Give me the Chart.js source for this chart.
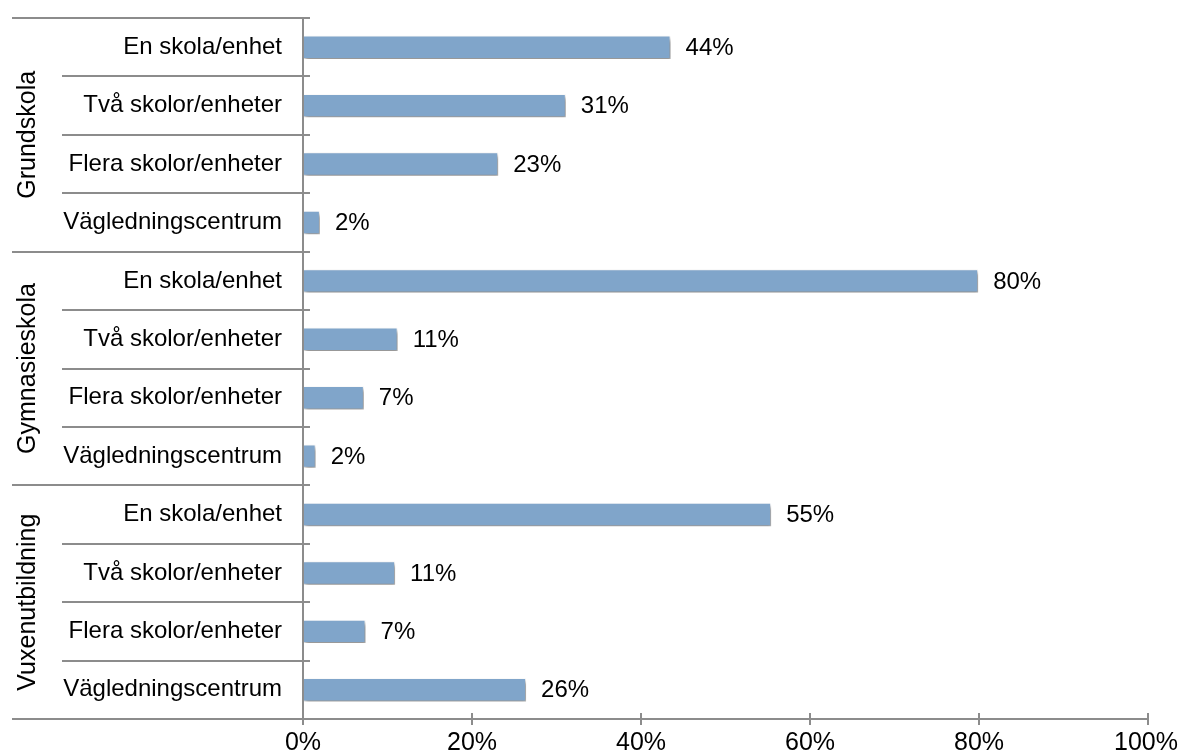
<!DOCTYPE html>
<html>
<head>
<meta charset="utf-8">
<script src="https://cdn.jsdelivr.net/npm/chart.js@4/dist/chart.umd.min.js"></script>
<style>
  html, body { margin: 0; padding: 0; background: #fff; }
  #wrap { width: 1182px; height: 756px; }
</style>
</head>
<body>
<div id="wrap"><canvas id="chart" width="1182" height="756"></canvas></div>
<script>
const categories = [
    'En skola/enhet', 'Två skolor/enheter', 'Flera skolor/enheter', 'Vägledningscentrum',
    'En skola/enhet', 'Två skolor/enheter', 'Flera skolor/enheter', 'Vägledningscentrum',
    'En skola/enhet', 'Två skolor/enheter', 'Flera skolor/enheter', 'Vägledningscentrum'
]
const groups = ['Grundskola', 'Gymnasieskola', 'Vuxenutbildning']
const groupSize = 4
const values = [43.5, 31.1, 23.1, 2.0, 79.9, 11.2, 7.2, 1.5, 55.4, 10.9, 7.4, 26.4]
const xTicks = [0, 20, 40, 60, 80, 100]

const FONT = '"Liberation Sans", Arial, sans-serif'
const lineColour = '#8c8c8c'

const decorPlugin = {
    id: 'decor',
    beforeDatasetsDraw(chart) {
        const ctx = chart.ctx
        ctx.save()
        ctx.shadowColor = 'rgba(0,0,0,0.45)'
        ctx.shadowBlur = 4
        ctx.shadowOffsetX = 2
        ctx.shadowOffsetY = 3
    },
    afterDatasetsDraw(chart) {
        const ctx = chart.ctx
        ctx.restore()
        const x = chart.scales.x
        const y = chart.scales.y
        const left = Math.round(x.getPixelForValue(0))
        const step = y.getPixelForValue(1) - y.getPixelForValue(0)

        ctx.save()
        ctx.strokeStyle = lineColour
        ctx.lineWidth = 2
        // separators between categories
        for (let i = 0; i <= categories.length; i++) {
            const py = Math.round(y.getPixelForValue(i) - step / 2)
            const isGroup = i % groupSize === 0
            ctx.beginPath()
            ctx.moveTo(isGroup ? 12 : 62, py)
            ctx.lineTo(i === categories.length ? x.getPixelForValue(100) : left + 7, py)
            ctx.stroke()
        }
        // vertical axis
        ctx.beginPath()
        ctx.moveTo(left, chart.chartArea.top)
        ctx.lineTo(left, chart.chartArea.bottom + 6)
        ctx.stroke()
        // x ticks and labels
        const by = Math.round(chart.chartArea.bottom)
        ctx.fillStyle = '#000'
        ctx.font = '25px ' + FONT
        ctx.textBaseline = 'middle'
        xTicks.forEach(v => {
            const px = Math.round(x.getPixelForValue(v))
            ctx.beginPath()
            ctx.moveTo(px, by - 6)
            ctx.lineTo(px, by + 6)
            ctx.stroke()
            const txt = v + '%'
            const w = ctx.measureText(txt).width
            let tx = px - w / 2
            if (tx + w > chart.width - 4) tx = chart.width - 4 - w
            ctx.textAlign = 'left'
            ctx.fillText(txt, tx, by + 24)
        })

        // group labels
        ctx.font = '25px ' + FONT
        ctx.textAlign = 'center'
        groups.forEach((g, gi) => {
            const cy = (y.getPixelForValue(gi * groupSize) + y.getPixelForValue(gi * groupSize + groupSize - 1)) / 2
            ctx.save()
            ctx.translate(28, cy)
            ctx.rotate(-Math.PI / 2)
            ctx.fillText(g, 0, 0)
            ctx.restore()
        })

        // value labels
        ctx.font = '24px ' + FONT
        ctx.textAlign = 'left'
        chart.getDatasetMeta(0).data.forEach((bar, i) => {
            ctx.fillText(Math.round(values[i]) + '%', bar.x + 15, bar.y + 1)
        })
        ctx.restore()
    }
}

new Chart(document.getElementById('chart'), {
    type: 'bar',
    data: {
        labels: categories,
        datasets: [{
            data: values,
            backgroundColor: '#80a5ca',
            borderColor: 'rgba(255,255,255,0.8)',
            borderWidth: 1,
            categoryPercentage: 1,
            barPercentage: 0.4
        }]
    },
    options: {
        responsive: false,
        animation: false,
        indexAxis: 'y',
        layout: { padding: { top: 18, right: 34, left: 0, bottom: 0 } },
        plugins: { legend: { display: false }, tooltip: { enabled: false } },
        scales: {
            x: {
                min: 0,
                max: 100,
                afterFit: (scale) => {
                    scale.height = 37
                    scale.paddingLeft = 0
                    scale.paddingRight = 0
                },
                grid: { display: false },
                border: { display: false },
                ticks: { display: false }
            },
            y: {
                afterFit: (scale) => {
                    scale.width = 303
                    scale.paddingTop = 0
                    scale.paddingBottom = 0
                },
                grid: { display: false },
                border: { display: false },
                ticks: {
                    color: '#000',
                    font: { family: FONT, size: 24 },
                    padding: 13
                }
            }
        }
    },
    plugins: [decorPlugin]
});
</script>
</body>
</html>
